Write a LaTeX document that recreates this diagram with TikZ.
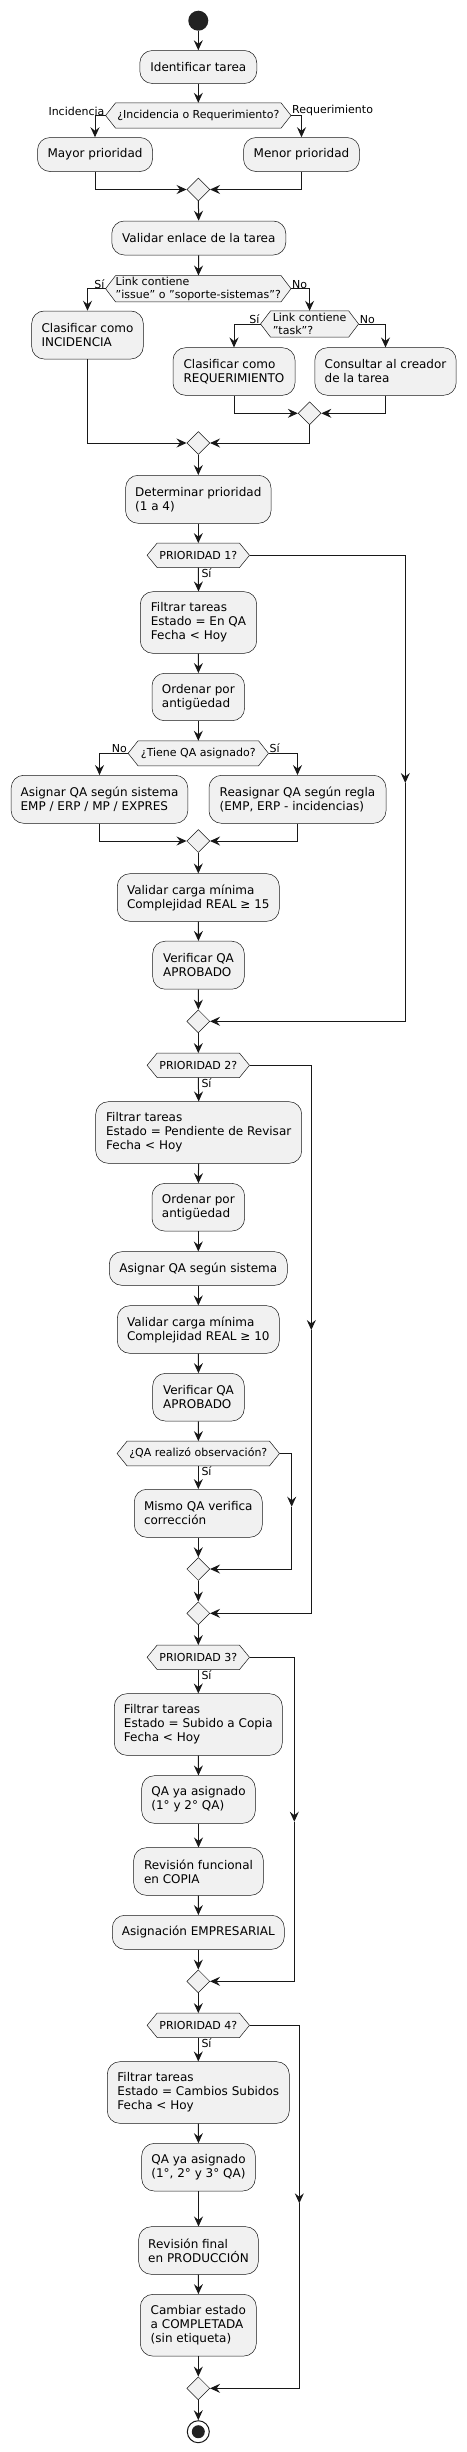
\documentclass[tikz,border=0pt]{standalone}
\usepackage{fontspec}
\setmainfont{DejaVu Sans}
\usetikzlibrary{arrows.meta,shapes.geometric,backgrounds,calc}
\definecolor{fillc}{HTML}{F1F1F1}
\definecolor{linec}{HTML}{181818}
\definecolor{startc}{HTML}{222222}
\tikzset{
 act/.style={rectangle, rounded corners=12.5pt, draw=linec, line width=0.5pt, fill=fillc, inner sep=0pt, align=left, font=\fontsize{12}{14}\selectfont, text=black},
 dec/.style={rectangle, inner sep=0pt, align=left, font=\fontsize{11}{12.9}\selectfont, minimum height=25pt},
 hexst/.style={draw=linec, line width=0.5pt, fill=fillc},
 mrg/.style={diamond, aspect=1, draw=linec, line width=0.5pt, fill=fillc, inner sep=0pt, minimum size=23pt},
 lbl/.style={font=\fontsize{11}{12.9}\selectfont, inner sep=0pt},
 arr/.style={draw=linec, line width=1pt, -{Stealth[length=10pt,width=9pt,inset=3.5pt]}},
}
\newcommand\hexshape[1]{\path[hexst] (#1.west) -- ([xshift=10pt]#1.north west) -- ([xshift=-10pt]#1.north east) -- (#1.east) -- ([xshift=-10pt]#1.south east) -- ([xshift=10pt]#1.south west) -- cycle;}
\begin{document}
\begin{tikzpicture}[x=1pt,y=-1pt]
\useasboundingbox (0,0) rectangle (466,2452);
% start
\node[circle, fill=startc, minimum size=20pt, inner sep=0pt] (start) at (198.3,20.7) {};
\node[act, minimum width=117pt, minimum height=33pt] (id) at (198.3,67) {Identificar tarea};
\node[dec, minimum width=185pt] (d1) at (198.3,115.5) {¿Incidencia o Requerimiento?};
\node[act, minimum width=115pt, minimum height=34pt] (mayor) at (95,154.5) {Mayor prioridad};
\node[act, minimum width=116pt, minimum height=34pt] (menor) at (301.5,154.5) {Menor prioridad};
\node[mrg] (m1) at (198.3,189.5) {};
\node[act, minimum width=174pt, minimum height=34pt] (val) at (198.8,238) {Validar enlace de la tarea};
\node[dec, minimum width=185pt, minimum height=26pt] (d2) at (198.3,288.7) {Link contiene\\"issue" o "soporte-sistemas"?};
\node[act, minimum width=111.6pt, minimum height=48pt] (inc) at (87.5,335) {Clasificar como\\INCIDENCIA};
\node[dec, minimum width=97.6pt, minimum height=26pt] (d3) at (309.6,324) {Link contiene\\"task"?};
\node[act, minimum width=122pt, minimum height=47.6pt] (req) at (234,371.5) {Clasificar como\\REQUERIMIENTO};
\node[act, minimum width=141.3pt, minimum height=47.6pt] (cons) at (385.5,371.5) {Consultar al creador\\de la tarea};
\node[mrg] (m2) at (309.6,413.3) {};
\node[mrg] (m3) at (198.3,443) {};
\node[act, minimum width=145.4pt, minimum height=48pt] (det) at (198.3,499.3) {Determinar prioridad\\(1 a 4)};
\node[dec, minimum width=102pt, minimum height=24pt] (p1) at (198.3,555.3) {PRIORIDAD 1?};
\node[act, minimum width=116.4pt, minimum height=61.6pt] (f1) at (198.5,622.5) {Filtrar tareas\\Estado = En QA\\Fecha < Hoy};
\node[act, minimum width=92.6pt, minimum height=47.4pt] (ord1) at (198.3,697) {Ordenar por\\antigüedad};
\node[dec, minimum width=140pt, minimum height=24.7pt] (tq) at (198.3,753.3) {¿Tiene QA asignado?};
\node[act, minimum width=176.6pt, minimum height=48pt] (asig1) at (99.5,799.3) {Asignar QA según sistema\\EMP / ERP / MP / EXPRES};
\node[act, minimum width=177pt, minimum height=48pt] (reas) at (297.5,799.3) {Reasignar QA según regla\\(EMP, ERP - incidencias)};
\node[mrg] (m4) at (198.3,841) {};
\node[act, minimum width=162pt, minimum height=47.6pt] (vc1) at (198.3,897.5) {Validar carga mínima\\Complejidad REAL ≥ 15};
\node[act, minimum width=91.6pt, minimum height=48pt] (ver1) at (198.5,965.2) {Verificar QA\\APROBADO};
\node[mrg] (m5) at (198.3,1021.3) {};
\node[dec, minimum width=102pt, minimum height=24pt] (p2) at (198.3,1065.3) {PRIORIDAD 2?};
\node[act, minimum width=206pt, minimum height=61.6pt] (f2) at (198.7,1132.5) {Filtrar tareas\\Estado = Pendiente de Revisar\\Fecha < Hoy};
\node[act, minimum width=92.6pt, minimum height=47.6pt] (ord2) at (198.3,1207.2) {Ordenar por\\antigüedad};
\node[act, minimum width=178pt, minimum height=33.6pt] (asig2) at (198.3,1268.5) {Asignar QA según sistema};
\node[act, minimum width=162pt, minimum height=47.6pt] (vc2) at (198.3,1329.5) {Validar carga mínima\\Complejidad REAL ≥ 10};
\node[act, minimum width=91.6pt, minimum height=47.6pt] (ver2) at (198.5,1397.2) {Verificar QA\\APROBADO};
\node[dec, minimum width=162pt, minimum height=24.4pt] (obs) at (198.3,1453.5) {¿QA realizó observación?};
\node[act, minimum width=128pt, minimum height=48pt] (mismo) at (198.3,1513.3) {Mismo QA verifica\\corrección};
\node[mrg] (m6) at (198.3,1569) {};
\node[mrg] (m7) at (198.3,1613.3) {};
\node[dec, minimum width=102pt, minimum height=24pt] (p3) at (198.3,1657.3) {PRIORIDAD 3?};
\node[act, minimum width=168pt, minimum height=61.6pt] (f3) at (198.3,1724.5) {Filtrar tareas\\Estado = Subido a Copia\\Fecha < Hoy};
\node[act, minimum width=113.6pt, minimum height=47.6pt] (qa3) at (198.5,1799.5) {QA ya asignado\\(1° y 2° QA)};
\node[act, minimum width=129.6pt, minimum height=47.6pt] (rev) at (198.5,1871.5) {Revisión funcional\\en COPIA};
\node[act, minimum width=172pt, minimum height=34pt] (emp) at (198.3,1932.3) {Asignación EMPRESARIAL};
\node[mrg] (m8) at (198.3,1981.3) {};
\node[dec, minimum width=102pt, minimum height=24pt] (p4) at (198.3,2025.3) {PRIORIDAD 4?};
\node[act, minimum width=182pt, minimum height=61.6pt] (f4) at (198.3,2092.5) {Filtrar tareas\\Estado = Cambios Subidos\\Fecha < Hoy};
\node[act, minimum width=113.6pt, minimum height=47.6pt] (qa4) at (198.5,2167.2) {QA ya asignado\\(1°, 2° y 3° QA)};
\node[act, minimum width=119.6pt, minimum height=47.6pt] (prod) at (198.5,2250.5) {Revisión final\\en PRODUCCIÓN};
\node[act, minimum width=116pt, minimum height=61.7pt] (comp) at (198.3,2325.2) {Cambiar estado\\a COMPLETADA\\(sin etiqueta)};
\node[mrg] (m9) at (198.3,2388.3) {};
\node[circle, draw=linec, line width=1pt, fill=white, minimum size=22pt, inner sep=0pt] (end) at (198.3,2431.7) {};
\fill[startc] (end.center) circle (6.5pt);
% hexagons behind
\begin{pgfonlayer}{background}
\fill[white] (0,0) rectangle (466,2452);
\hexshape{d1}\hexshape{d2}\hexshape{d3}\hexshape{p1}\hexshape{tq}\hexshape{p2}\hexshape{obs}\hexshape{p3}\hexshape{p4}
\end{pgfonlayer}
% labels
\node[lbl, anchor=south east] (lInc) at ([xshift=-1pt]d1.west) {Incidencia};
\node[lbl, anchor=south west] (lReq) at ([xshift=1pt]d1.east) {Requerimiento};
\node[lbl, anchor=south east] (lSi2) at ([xshift=-1pt]d2.west) {Sí};
\node[lbl, anchor=south west] (lNo2) at ([xshift=1pt]d2.east) {No};
\node[lbl, anchor=south east] (lSi3) at ([xshift=-1pt]d3.west) {Sí};
\node[lbl, anchor=south west] (lNo3) at ([xshift=1pt]d3.east) {No};
\node[lbl, anchor=south east] (lNoT) at ([xshift=-1pt]tq.west) {No};
\node[lbl, anchor=south west] (lSiT) at ([xshift=1pt]tq.east) {Sí};
\node[lbl, anchor=north west] (lSp1) at ([xshift=3pt,yshift=-1pt]p1.south) {Sí};
\node[lbl, anchor=north west] (lSp2) at ([xshift=3pt,yshift=-1pt]p2.south) {Sí};
\node[lbl, anchor=north west] (lSob) at ([xshift=3pt,yshift=-1pt]obs.south) {Sí};
\node[lbl, anchor=north west] (lSp3) at ([xshift=3pt,yshift=-1pt]p3.south) {Sí};
\node[lbl, anchor=north west] (lSp4) at ([xshift=3pt,yshift=-1pt]p4.south) {Sí};
% coordinates for else branches
\coordinate (e1) at (405.3,783);
\coordinate (e2) at (311.3,1330);
\coordinate (e3) at (291.7,1506.7);
\coordinate (e4) at (294.3,1821.7);
\coordinate (e5) at (299.3,2203.3);
% connectors
\draw[arr] (start) -- (id);
\draw[arr] (id) -- (d1);
\draw[arr] (d1.west) -| (mayor.north);
\draw[arr] (d1.east) -| (menor.north);
\draw[arr] (mayor.south) |- (m1.west);
\draw[arr] (menor.south) |- (m1.east);
\draw[arr] (m1) -- (val);
\draw[arr] (val) -- (d2);
\draw[arr] (d2.west) -| (inc.north);
\draw[arr] (d2.east) -| (d3.north);
\draw[arr] (d3.west) -| (req.north);
\draw[arr] (d3.east) -| (cons.north);
\draw[arr] (req.south) |- (m2.west);
\draw[arr] (cons.south) |- (m2.east);
\draw[arr] (inc.south) |- (m3.west);
\draw[arr] (m2.south) |- (m3.east);
\draw[arr] (m3) -- (det);
\draw[arr] (det) -- (p1);
\draw[arr] (p1.south) -- (f1.north);
\draw[arr] (f1) -- (ord1);
\draw[arr] (ord1) -- (tq);
\draw[arr] (tq.west) -| (asig1.north);
\draw[arr] (tq.east) -| (reas.north);
\draw[arr] (asig1.south) |- (m4.west);
\draw[arr] (reas.south) |- (m4.east);
\draw[arr] (m4) -- (vc1);
\draw[arr] (vc1) -- (ver1);
\draw[arr] (ver1) -- (m5);
\draw[arr] (p1.east) -| (e1);
\draw[arr] (e1) |- (m5.east);
\draw[arr] (m5) -- (p2);
\draw[arr] (p2.south) -- (f2.north);
\draw[arr] (f2) -- (ord2);
\draw[arr] (ord2) -- (asig2);
\draw[arr] (asig2) -- (vc2);
\draw[arr] (vc2) -- (ver2);
\draw[arr] (ver2) -- (obs);
\draw[arr] (obs.south) -- (mismo.north);
\draw[arr] (mismo) -- (m6);
\draw[arr] (obs.east) -| (e3);
\draw[arr] (e3) |- (m6.east);
\draw[arr] (m6) -- (m7);
\draw[arr] (p2.east) -| (e2);
\draw[arr] (e2) |- (m7.east);
\draw[arr] (m7) -- (p3);
\draw[arr] (p3.south) -- (f3.north);
\draw[arr] (f3) -- (qa3);
\draw[arr] (qa3) -- (rev);
\draw[arr] (rev) -- (emp);
\draw[arr] (emp) -- (m8);
\draw[arr] (p3.east) -| (e4);
\draw[arr] (e4) |- (m8.east);
\draw[arr] (m8) -- (p4);
\draw[arr] (p4.south) -- (f4.north);
\draw[arr] (f4) -- (qa4);
\draw[arr] (qa4) -- (prod);
\draw[arr] (prod) -- (comp);
\draw[arr] (comp) -- (m9);
\draw[arr] (p4.east) -| (e5);
\draw[arr] (e5) |- (m9.east);
\draw[arr] (m9) -- (end);
\end{tikzpicture}
\end{document}
